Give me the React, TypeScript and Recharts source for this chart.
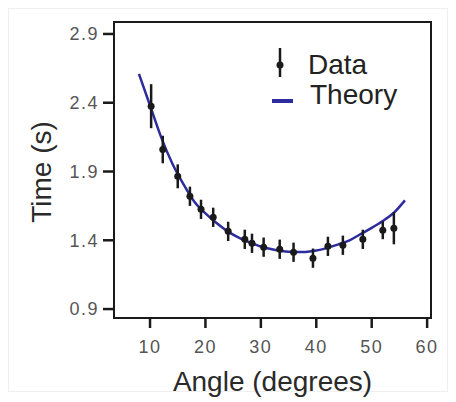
import React from 'react';
import {
  ComposedChart,
  Scatter,
  Line,
  XAxis,
  YAxis,
  ErrorBar,
  ReferenceArea,
  Legend,
} from 'recharts';

// measured angles (degrees)
const angles = [10.2, 12.3, 15.0, 17.2, 19.2, 21.4, 24.1, 27.1, 28.4, 30.5, 33.4, 35.9, 39.4, 42.1, 44.8, 48.4, 52.0, 54.0];
// measured times (s)
const times = [2.375, 2.06, 1.865, 1.72, 1.625, 1.567, 1.465, 1.407, 1.378, 1.35, 1.335, 1.313, 1.27, 1.356, 1.364, 1.407, 1.473, 1.487];
// uncertainty on times (s)
const errors = [0.16, 0.1, 0.087, 0.07, 0.07, 0.07, 0.07, 0.07, 0.07, 0.07, 0.07, 0.07, 0.07, 0.07, 0.07, 0.07, 0.065, 0.116];

// theory curve
const theoryAngles = [8, 10, 12, 14, 16, 18, 20, 22, 24, 26, 28, 30, 32, 34, 36, 38, 40, 42, 44, 46, 48, 50, 52, 54, 56];
const theoryTimes = [2.61, 2.38, 2.15, 1.96, 1.81, 1.68, 1.595, 1.525, 1.465, 1.42, 1.385, 1.355, 1.335, 1.32, 1.315, 1.315, 1.325, 1.345, 1.37, 1.40, 1.445, 1.49, 1.54, 1.60, 1.69];

const xTicks = [10, 20, 30, 40, 50, 60];
const yTicks = [0.9, 1.4, 1.9, 2.4, 2.9];

const xDomain: [number, number] = [3.5, 60.7];
const yDomain: [number, number] = [0.835, 2.987];

const data = angles.map((x, i) => ({ x, y: times[i], err: errors[i] }));
const theory = theoryAngles.map((x, i) => ({ x, y: theoryTimes[i] }));

const FONT = '"Liberation Sans", Arial, Helvetica, sans-serif';
const BLUE = '#2c2c9e';
const INK = '#1a1a1a';

function LegendBox() {
  return (
    <div style={{ fontFamily: FONT, fontSize: 28, lineHeight: '30px', color: '#222' }}>
      <div style={{ display: 'flex', alignItems: 'flex-start', height: 30 }}>
        <svg width={40} height={30} style={{ overflow: 'visible' }}>
          <line x1={12} x2={12} y1={-2} y2={27} stroke={INK} strokeWidth={2.5} />
          <circle cx={12} cy={15} r={3.5} fill={INK} />
        </svg>
        <span>Data</span>
      </div>
      <div style={{ display: 'flex', alignItems: 'flex-start', height: 30 }}>
        <svg width={42} height={30} style={{ overflow: 'visible' }}>
          <line x1={4} x2={25} y1={21} y2={21} stroke={BLUE} strokeWidth={4} />
        </svg>
        <span>Theory</span>
      </div>
    </div>
  );
}

export default function App() {
  const tickStyle = { fill: '#555', fontSize: 18, fontFamily: FONT, letterSpacing: 1.5 };
  return (
    <div style={{ position: 'absolute', left: 0, top: 0, width: 456, height: 402, background: '#fff' }}>
      <div
        style={{
          position: 'absolute',
          left: 8,
          top: 8,
          width: 440,
          height: 384,
          border: '1px solid #efefef',
          boxSizing: 'border-box',
        }}
      />
      <ComposedChart
        width={456}
        height={402}
        margin={{ top: 22, right: 25, bottom: 4, left: 0 }}
        style={{ position: 'absolute', left: 0, top: 0 }}
      >
        <XAxis
          type="number"
          dataKey="x"
          domain={xDomain}
          ticks={xTicks}
          allowDataOverflow
          height={80}
          stroke={INK}
          strokeWidth={2}
          tickSize={10}
          tickMargin={12}
          tick={tickStyle}
          tickLine={{ stroke: INK, strokeWidth: 2.5 }}
          label={{
            value: 'Angle (degrees)',
            position: 'insideBottom',
            offset: 7,
            style: { fontSize: 28, fontFamily: FONT, fill: '#2a2a2a' },
          }}
        />
        <YAxis
          type="number"
          dataKey="y"
          domain={yDomain}
          ticks={yTicks}
          allowDataOverflow
          width={114}
          stroke={INK}
          strokeWidth={2}
          tickSize={11}
          tickMargin={4}
          tick={tickStyle}
          tickLine={{ stroke: INK, strokeWidth: 2.5 }}
          tickFormatter={(v: number) => v.toFixed(1)}
          label={{
            content: () => (
              <text
                x={41}
                y={172}
                transform="rotate(-90 41 172)"
                textAnchor="middle"
                dominantBaseline="central"
                style={{ fontSize: 28, fontFamily: FONT, fill: '#2a2a2a' }}
              >
                Time (s)
              </text>
            ),
          }}
        />
        <ReferenceArea
          x1={xDomain[0]}
          x2={xDomain[1]}
          y1={yDomain[0]}
          y2={yDomain[1]}
          fill="none"
          stroke={INK}
          strokeWidth={2}
          ifOverflow="visible"
        />
        <Line
          data={theory}
          dataKey="y"
          type="monotone"
          stroke={BLUE}
          strokeWidth={2.5}
          dot={false}
          activeDot={false}
          isAnimationActive={false}
          legendType="none"
        />
        <Scatter data={data} dataKey="y" fill={INK} isAnimationActive={false} shape={(p: any) => <circle cx={p.cx} cy={p.cy} r={3.5} fill={INK} />}>
          <ErrorBar dataKey="err" direction="y" width={0} stroke={INK} strokeWidth={2.5} isAnimationActive={false} />
        </Scatter>
        <Legend
          layout="horizontal"
          verticalAlign="middle"
          align="center"
          content={() => <LegendBox />}
          wrapperStyle={{ position: 'absolute', top: 50, left: 268, width: 160 }}
        />
      </ComposedChart>
    </div>
  );
}
